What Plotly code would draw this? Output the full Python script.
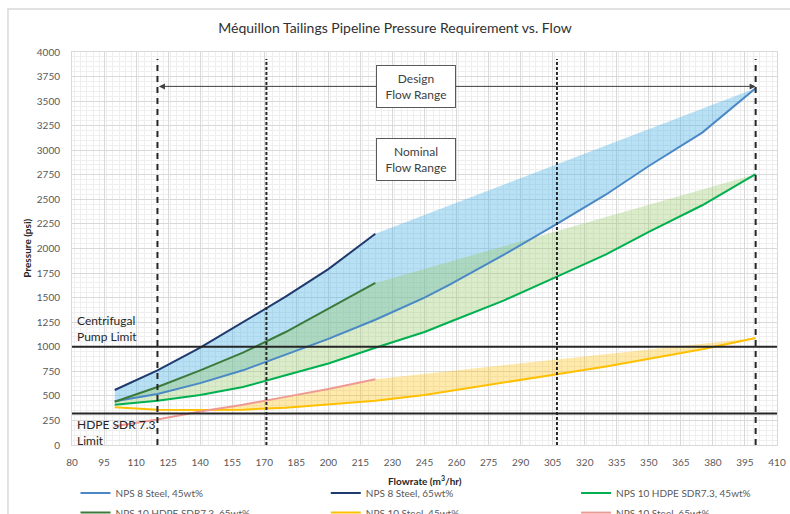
import plotly.graph_objects as go
import numpy as np

# ---------------- data ----------------
X_LONG = [100, 120, 140, 160, 180, 200, 222, 245, 257, 282, 307, 330, 350, 375, 400]
X_SHORT = [100, 120, 140, 160, 180, 200, 222]

nps8_steel_45 = [445, 520, 630, 760, 920, 1080, 1275, 1500, 1635, 1935, 2250, 2550, 2840, 3180, 3630]
nps8_steel_65 = [560, 760, 990, 1250, 1510, 1790, 2150]
nps10_hdpe_45 = [410, 450, 510, 590, 710, 830, 990, 1150, 1255, 1470, 1713, 1940, 2170, 2440, 2756]
nps10_hdpe_65 = [440, 590, 760, 940, 1150, 1390, 1650]
nps10_steel_45 = [385, 360, 355, 360, 380, 410, 450, 510, 550, 630, 720, 800, 875, 975, 1090]
nps10_steel_65 = [190, 260, 340, 410, 490, 570, 670]

pump_limit = 1000
hdpe_limit = 320
design_range = [120, 400]
nominal_range = [171, 307]
arrow_level = 3650
vline_top = 3930

FONT = "Lato"

fig = go.Figure()

# ---------------- bands ----------------
def band(upper_short, lower_long, color):
    n = len(X_SHORT)
    up = np.maximum(np.array(upper_short), np.array(lower_long[:n]))
    xs = list(X_SHORT) + [X_LONG[-1]] + list(X_LONG[::-1])
    ys = list(up) + [lower_long[-1]] + list(lower_long[::-1])
    fig.add_trace(go.Scatter(x=xs, y=ys, fill="toself", fillcolor=color,
                             line=dict(width=0), mode="lines", hoverinfo="skip",
                             showlegend=False))

band(nps8_steel_65, nps8_steel_45, "rgba(80,180,230,0.40)")
band(nps10_hdpe_65, nps10_hdpe_45, "rgba(150,200,100,0.35)")
band(nps10_steel_65, nps10_steel_45, "rgba(255,192,0,0.33)")

# ---------------- lines ----------------
series = [
    ("NPS 8 Steel, 45wt%", X_LONG, nps8_steel_45, "#4a88c6"),
    ("NPS 8 Steel, 65wt%", X_SHORT, nps8_steel_65, "#1f3a6e"),
    ("NPS 10 HDPE SDR7.3, 45wt%", X_LONG, nps10_hdpe_45, "#00b050"),
    ("NPS 10 HDPE SDR7.3, 65wt%", X_SHORT, nps10_hdpe_65, "#3b7a3b"),
    ("NPS 10 Steel, 45wt%", X_LONG, nps10_steel_45, "#ffc000"),
    ("NPS 10 Steel, 65wt%", X_SHORT, nps10_steel_65, "#ee9a94"),
]
legend_ids = ["legend", "legend2", "legend3", "legend4", "legend5", "legend6"]
col_x = [0.005, 0.36, 0.715]
row_y = [-0.122, -0.172]
legend_layout = {}
for i, ((name, xs, ys, col), lid) in enumerate(zip(series, legend_ids)):
    fig.add_trace(go.Scatter(x=xs, y=ys, name=name, mode="lines",
                             line=dict(color=col, width=2), legend=lid))
    legend_layout[lid] = dict(orientation="h", x=col_x[i % 3], y=row_y[i // 3],
                              xanchor="left", yanchor="middle", bgcolor="rgba(0,0,0,0)",
                              font=dict(family=FONT, size=10, color="#595959"))

# ---------------- reference lines ----------------
shapes = []
for yv in (pump_limit, hdpe_limit):
    shapes.append(dict(type="line", xref="paper", yref="y", x0=0, x1=1, y0=yv, y1=yv,
                       line=dict(color="#262626", width=2), layer="above"))
for xv in design_range:
    shapes.append(dict(type="line", xref="x", yref="y", x0=xv, x1=xv, y0=0, y1=vline_top,
                       line=dict(color="#262626", width=2, dash="6px,5px"), layer="above"))
for xv in nominal_range:
    shapes.append(dict(type="line", xref="x", yref="y", x0=xv, x1=xv, y0=0, y1=vline_top,
                       line=dict(color="#262626", width=2, dash="3px,2px"), layer="above"))
# outer chart border
shapes.append(dict(type="rect", xref="paper", yref="paper", x0=-0.0908, x1=1.03,
                   y0=-0.25, y1=1.1094, line=dict(color="#d9d9d9", width=1.5), layer="below"))

annotations = [
    dict(x=design_range[1], y=arrow_level, ax=design_range[0], ay=arrow_level,
         xref="x", yref="y", axref="x", ayref="y", text="", showarrow=True,
         arrowhead=2, startarrowhead=2, arrowside="end+start", arrowsize=1.2,
         arrowwidth=1, arrowcolor="#404040"),
    dict(x=241, y=arrow_level, xref="x", yref="y", text="Design<br>Flow Range",
         showarrow=False, bgcolor="white", bordercolor="#595959", borderwidth=1,
         borderpad=5, width=68, font=dict(family=FONT, size=12, color="#404040")),
    dict(x=241, y=2906, xref="x", yref="y", text="Nominal<br>Flow Range",
         showarrow=False, bgcolor="white", bordercolor="#595959", borderwidth=1,
         borderpad=5, width=68, font=dict(family=FONT, size=12, color="#404040")),
    dict(x=0.004, y=1181, xref="paper", yref="y", xanchor="left", yanchor="middle",
         text="Centrifugal<br>Pump Limit", showarrow=False, align="left",
         font=dict(family=FONT, size=12, color="#262626")),
    dict(x=0.004, y=132, xref="paper", yref="y", xanchor="left", yanchor="middle",
         text="HDPE SDR 7.3<br>Limit", showarrow=False, align="left",
         font=dict(family=FONT, size=12, color="#262626")),
    dict(x=0.5, y=-0.09, xref="paper", yref="paper", xanchor="center", yanchor="middle",
         text="<b>Flowrate (m<sup>3</sup>/hr)</b>", showarrow=False,
         font=dict(family=FONT, size=10, color="#262626")),
    dict(x=-0.065, y=0.5, xref="paper", yref="paper", xanchor="center", yanchor="middle",
         text="<b>Pressure (psi)</b>", textangle=-90, showarrow=False,
         font=dict(family=FONT, size=10, color="#262626")),
]

fig.update_layout(
    width=790, height=514,
    margin=dict(l=72, r=13, t=52, b=69, autoexpand=False),
    paper_bgcolor="white", plot_bgcolor="white",
    font=dict(family=FONT, size=10, color="#595959"),
    title=dict(text="Méquillon Tailings Pipeline Pressure Requirement vs. Flow",
               x=0.5, xanchor="center", y=1 - 28 / 514, yanchor="middle",
               font=dict(family=FONT, size=14, color="#303030")),
    xaxis=dict(range=[80, 410], tick0=80, dtick=15, showgrid=True, gridcolor="#d9d9d9",
               gridwidth=1, minor=dict(dtick=3, showgrid=True, gridcolor="#efefef"),
               showline=True, linecolor="#d9d9d9", mirror=True, zeroline=False,
               ticks="", ticklabelstandoff=8, tickfont=dict(size=10, color="#595959")),
    yaxis=dict(range=[0, 4000], tick0=0, dtick=250, showgrid=True, gridcolor="#d9d9d9",
               gridwidth=1, minor=dict(dtick=50, showgrid=True, gridcolor="#efefef"),
               showline=True, linecolor="#d9d9d9", mirror=True, zeroline=False,
               ticks="", ticklabelstandoff=9, tickfont=dict(size=10, color="#595959")),
    shapes=shapes,
    annotations=annotations,
    showlegend=True,
    **legend_layout,
)

fig.write_html("out.html")
